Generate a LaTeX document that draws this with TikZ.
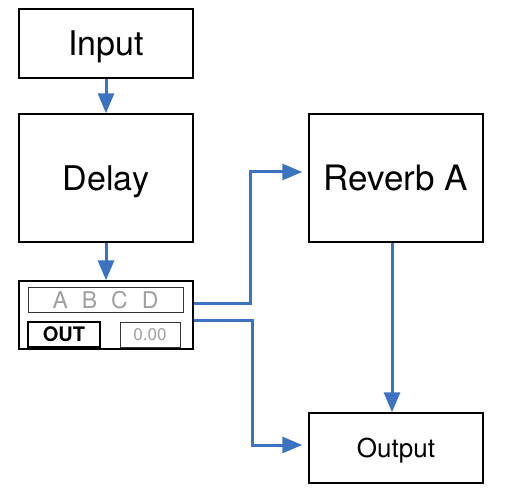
\documentclass[tikz,border=0pt]{standalone}
\usepackage{fontspec}
\setmainfont{TeX Gyre Heros}
\usepackage{tikz}
\usetikzlibrary{positioning,arrows.meta}
\definecolor{wireblue}{RGB}{59,115,192}
\definecolor{dimtext}{RGB}{160,160,160}

\begin{document}
\begin{tikzpicture}[x=1pt,y=-1pt,
		block/.style={shape=rectangle,draw,line width=1.4pt,inner sep=0pt,minimum width=174pt,text depth=0pt},
		field/.style={shape=rectangle,draw,line width=1pt,inner sep=0pt,minimum height=25pt,text depth=0pt},
		wire/.style={draw=wireblue,line width=3pt,-{Triangle[length=20pt,width=16pt]}}]
		\useasboundingbox (0,0) rectangle (509,500);
		\node(input) at (106,43.5) [block,minimum height=69pt,font=\fontsize{34}{40}\selectfont] {Input};
		\node(delay) at (106,178) [block,minimum height=128pt,font=\fontsize{34}{40}\selectfont] {Delay};
		\node(reverb) at (396,178) [block,minimum height=128pt,font=\fontsize{35}{40}\selectfont] {Reverb A};
		\node(output) at (396,448) [block,minimum height=70pt,font=\fontsize{26}{30}\selectfont] {Output};
		% the little panel under the delay
		\node(panel) at (106,315) [block,minimum height=68pt,fill=white] {};
		\node(taps) at (105.5,299.5) [field,minimum width=155pt,draw=black!80,text=dimtext,font=\fontsize{23}{25}\selectfont]
			{A\hspace{14pt}B\hspace{14pt}C\hspace{14pt}D};
		\node(out) at (64,334.5) [field,minimum width=72pt,line width=1.8pt,font=\fontsize{20}{22}\selectfont\bfseries] {OUT};
		\node(value) at (150,334.5) [field,minimum width=60pt,draw=black!80,text=dimtext,font=\fontsize{17}{20}\selectfont] {0.00};
		\coordinate(sendA) at ([yshift=12pt]panel.east);
		\coordinate(sendB) at ([yshift=-5pt]panel.east);
		\draw[wire] (input) -- (delay);
		\draw[wire] (delay) -- (panel);
		\draw[wire] ([xshift=-4pt]reverb.south) -- ([xshift=-4pt]output.north);
		\draw[wire,shorten >=6pt] (sendA) -- ++(57,0) |- ([yshift=6pt]reverb.west);
		\draw[wire,shorten >=6pt] (sendB) -- ++(59,0) |- ([yshift=3pt]output.west);
	\end{tikzpicture}
\end{document}
